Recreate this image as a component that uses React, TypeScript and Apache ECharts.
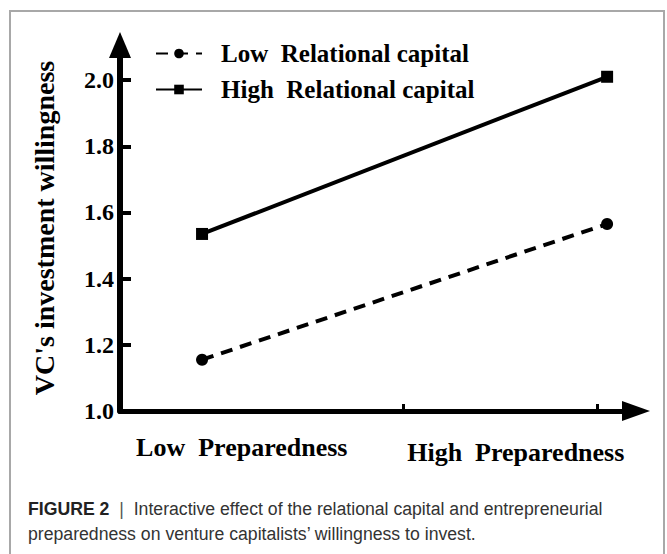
import React, { useEffect, useRef } from "react";
import * as echarts from "echarts";

// ---- data ----
const categories = ["Low  Preparedness", "High  Preparedness"];
const seriesNames = ["Low  Relational capital", "High  Relational capital"];
const lowRelational = [1.155, 1.565];
const highRelational = [1.535, 2.01];
const yTicks = [1.0, 1.2, 1.4, 1.6, 1.8, 2.0];
const captionBold = "FIGURE 2";
const captionLine1 = "Interactive effect of the relational capital and entrepreneurial";
const captionLine2 = "preparedness on venture capitalists\u2019 willingness to invest.";

// ---- layout (x positions on a 0..100 axis) ----
const pointX = [15.9, 94.4];
const labelX = [23.6, 76.7];
const xTickPos = [54.8, 92.4];

const SERIF = "'Liberation Serif', 'Times New Roman', serif";
const SANS = "'Liberation Sans', Arial, sans-serif";

export default function App() {
  const ref = useRef<HTMLDivElement>(null);
  useEffect(() => {
    if (!ref.current) return;
    const chart = echarts.init(ref.current, undefined, { renderer: "svg" });
    const labelText = {
      fontFamily: SERIF,
      fontWeight: "bold",
      fontSize: 26,
      color: "#000",
    };
    const option: any = {
      animation: false,
      backgroundColor: "#ffffff",
      grid: { left: 120, right: 31, top: 45, bottom: 143, containLabel: false },
      legend: {
        orient: "vertical",
        left: 150,
        top: 36,
        itemWidth: 46,
        itemHeight: 12,
        itemGap: 11,
        textStyle: {
          fontFamily: SERIF,
          fontWeight: "bold",
          fontSize: 25,
          color: "#000",
          padding: [0, 0, 0, 14],
        },
        data: seriesNames,
      },
      xAxis: {
        type: "value",
        min: 0,
        max: 100,
        splitLine: { show: false },
        axisLine: {
          show: true,
          symbol: ["none", "triangle"],
          symbolSize: [20, 28],
          lineStyle: { color: "#000", width: 5 },
        },
        axisTick: {
          show: true,
          inside: true,
          length: 7,
          customValues: xTickPos,
          lineStyle: { color: "#000", width: 3 },
        },
        axisLabel: {
          show: true,
          margin: 23,
          customValues: labelX,
          formatter: (v: number) => {
            const i = labelX.findIndex((p) => Math.abs(p - v) < 0.01);
            if (i < 0) return "";
            return i === 0 ? "{a|" + categories[i] + "}" : "{b|" + categories[i] + "}";
          },
          rich: {
            a: { ...labelText },
            b: { ...labelText, padding: [5, 0, 0, 0] },
          },
          ...labelText,
        },
      },
      yAxis: {
        type: "value",
        min: 1.0,
        max: 2.106,
        splitLine: { show: false },
        name: "VC's investment willingness",
        nameLocation: "middle",
        nameGap: 62,
        nameRotate: 90,
        nameTextStyle: {
          fontFamily: SERIF,
          fontWeight: "bold",
          fontSize: 28,
          color: "#000",
        },
        axisLine: {
          show: true,
          symbol: ["none", "triangle"],
          symbolSize: [22, 26],
          lineStyle: { color: "#000", width: 6 },
        },
        axisTick: {
          show: true,
          inside: true,
          length: 11,
          customValues: yTicks.slice(1),
          lineStyle: { color: "#000", width: 4 },
        },
        axisLabel: {
          show: true,
          margin: 6,
          customValues: yTicks,
          formatter: (v: number) => v.toFixed(1),
          fontFamily: SERIF,
          fontWeight: "bold",
          fontSize: 24,
          color: "#000",
        },
      },
      series: [
        {
          name: seriesNames[0],
          type: "line",
          data: lowRelational.map((v, i) => [pointX[i], v]),
          symbol: "circle",
          symbolSize: 12,
          itemStyle: { color: "#000" },
          lineStyle: { color: "#000", width: 4, type: [12, 8] },
        },
        {
          name: seriesNames[1],
          type: "line",
          data: highRelational.map((v, i) => [pointX[i], v]),
          symbol: "rect",
          symbolSize: 12,
          itemStyle: { color: "#000" },
          lineStyle: { color: "#000", width: 4 },
        },
      ],
      graphic: [
        {
          type: "rect",
          shape: { x: 10, y: 11, width: 654, height: 600, r: 0 },
          style: { fill: "none", stroke: "#a8a8a8", lineWidth: 2 },
          z: -1,
        },
        {
          type: "text",
          x: 28,
          y: 499,
          scaleX: 0.93,
          style: {
            x: 0,
            y: 0,
            text: "{b|" + captionBold + "}{s|  |  }" + captionLine1,
            fontFamily: SANS,
            fontSize: 19,
            fill: "#333",
            rich: {
              b: { fontFamily: SANS, fontWeight: "bold", fontSize: 19, fill: "#222" },
              s: { fontFamily: SANS, fontSize: 19, fill: "#555" },
            },
          },
        },
        {
          type: "text",
          x: 28,
          y: 524,
          scaleX: 0.93,
          style: {
            x: 0,
            y: 0,
            text: captionLine2,
            fontFamily: SANS,
            fontSize: 19,
            fill: "#333",
          },
        },
      ],
    };
    chart.setOption(option);
    return () => chart.dispose();
  }, []);
  return (
    <div
      ref={ref}
      style={{ position: "fixed", left: 0, top: 0, width: 667, height: 554 }}
    />
  );
}
